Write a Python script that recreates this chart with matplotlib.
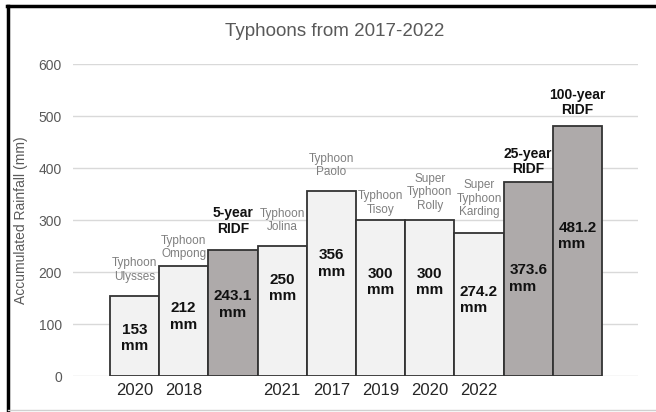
import matplotlib
matplotlib.use("Agg")
import matplotlib.pyplot as plt
from matplotlib.lines import Line2D

# ---- data ----
years = ["2020", "2018", "", "2021", "2017", "2019", "2020", "2022", "", ""]
values = [153, 212, 243.1, 250, 356, 300, 300, 274.2, 373.6, 481.2]
top_labels = ["Typhoon\nUlysses", "Typhoon\nOmpong", "5-year\nRIDF", "Typhoon\nJolina",
              "Typhoon\nPaolo", "Typhoon\nTisoy", "Super\nTyphoon\nRolly",
              "Super\nTyphoon\nKarding", "25-year\nRIDF", "100-year\nRIDF"]
is_ridf = [False, False, True, False, False, False, False, False, True, True]
value_texts = ["153\nmm", "212\nmm", "243.1\nmm", "250\nmm", "356\nmm", "300\nmm",
               "300\nmm", "274.2\nmm", "373.6\nmm", "481.2\nmm"]
yticks = [0, 100, 200, 300, 400, 500, 600]

# ---- layout helpers (not data) ----
value_label_y = [73, 115, 138, 169, 217, 181, 181, 146, 188, 269]
top_gap_pt = [10, 4, 10, 9, 9, 3, 6, 11, 4, 6]
left_align = [False, False, False, False, False, False, False, True, True, True]

FONT = ["Liberation Sans Narrow", "Liberation Sans", "DejaVu Sans"]
plt.rcParams["font.family"] = FONT

fig = plt.figure(figsize=(6.56, 4.12), dpi=100)
ax = fig.add_axes([73/656, 1-376/412, (638-73)/656, (376-64)/412])

x = list(range(len(values)))
colors = ["#aeaaaa" if r else "#f2f2f2" for r in is_ridf]
ax.bar(x, values, width=1.0, color=colors, edgecolor="#333333", linewidth=1.3, zorder=3)

ax.set_xlim(-1.25, 10.23)
ax.set_ylim(0, 600)
ax.set_yticks(yticks)
ax.set_yticklabels([str(t) for t in yticks], color="#595959", fontsize=10)
ax.set_xticks(x)
ax.set_xticklabels(years, fontsize=12, color="#262626")
ax.tick_params(axis="both", length=0)
ax.tick_params(axis="x", pad=5)
ax.tick_params(axis="y", pad=8)
ax.grid(axis="y", color="#d9d9d9", linewidth=1.0, zorder=0)
for s in ax.spines.values():
    s.set_visible(False)

ax.set_ylabel("Accumulated Rainfall (mm)", color="#595959", fontsize=10)
ax.yaxis.set_label_coords((28 - 73) / (638 - 73), 0.5)

fig.text(335/656, 1-32/412, "Typhoons from 2017-2022", ha="center", va="center",
         fontsize=13.5, color="#595959")

for i, v in enumerate(values):
    ax.text(i, value_label_y[i], value_texts[i], ha="center", va="center",
            multialignment="left" if left_align[i] else "center",
            fontsize=11, fontweight="bold", color="#111111", linespacing=1.25, zorder=4)
    if is_ridf[i]:
        ax.annotate(top_labels[i], (i, v), xytext=(0, top_gap_pt[i]), textcoords="offset points",
                    ha="center", va="bottom", fontsize=10, fontweight="bold", color="#111111",
                    linespacing=1.15, annotation_clip=False, zorder=4)
    else:
        ax.annotate(top_labels[i], (i, v), xytext=(0, top_gap_pt[i]), textcoords="offset points",
                    ha="center", va="bottom", fontsize=8.5, color="#7f7f7f",
                    linespacing=1.15, annotation_clip=False, zorder=4)

# figure frame
fig.add_artist(Line2D([7/656, 1], [1-6/412, 1-6/412], color="black", linewidth=2.5,
                      transform=fig.transFigure))
fig.add_artist(Line2D([8/656, 8/656], [0, 1-6/412], color="black", linewidth=2.5,
                      transform=fig.transFigure))
fig.add_artist(Line2D([8/656, 1], [1-410/412, 1-410/412], color="#d0d0d0", linewidth=1,
                      transform=fig.transFigure))

fig.savefig("out.png", dpi=100)
